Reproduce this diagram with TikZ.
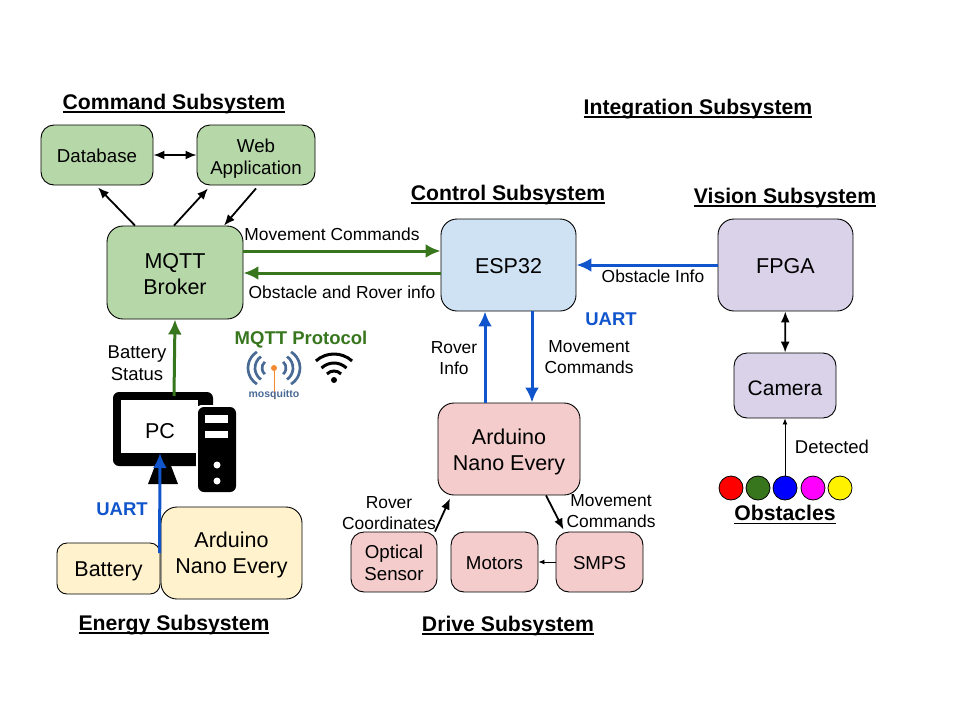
\documentclass[tikz,border=0pt]{standalone}
\usepackage{fontspec}
\setmainfont{Liberation Sans}
\usetikzlibrary{calc,arrows.meta,positioning}
\definecolor{cmdfill}{HTML}{B6D7A8}
\definecolor{ctlfill}{HTML}{CFE2F3}
\definecolor{visfill}{HTML}{D9D2E9}
\definecolor{drvfill}{HTML}{F4CCCC}
\definecolor{engfill}{HTML}{FFF2CC}
\definecolor{mqttgreen}{HTML}{38761D}
\definecolor{uartblue}{HTML}{1155CC}
\definecolor{mosqblue}{HTML}{4A6A96}
\definecolor{mosqorange}{HTML}{F58A2E}
\definecolor{obsmag}{HTML}{FF00FF}
\newcommand{\dn}[1]{\rule{0pt}{#1pt}}
\newcommand{\ttl}[1]{\setbox0\hbox{#1}\rlap{\rule[-3.5pt]{\wd0}{1.8pt}}\box0}
\tikzset{
  block/.style={draw=black,line width=0.9pt,rounded corners=13pt,align=center,inner sep=0pt,
    font=\fontsize{18.7}{22}\selectfont},
  bigblock/.style={block,rounded corners=16pt,font=\fontsize{21.5}{26}\selectfont},
  title/.style={font=\fontsize{21.2}{24}\selectfont\bfseries,inner sep=0pt},
  lab/.style={font=\fontsize{17.4}{21}\selectfont,align=center,inner sep=0pt},
  biglab/.style={lab,font=\fontsize{18.5}{22}\selectfont},
  boldlab/.style={font=\fontsize{18.5}{20}\selectfont\bfseries,inner sep=0pt},
  wire/.style={-{Latex[length=11pt,width=9pt]},line width=1.8pt},
  wirex/.style={{Latex[length=11pt,width=9pt]}-{Latex[length=11pt,width=9pt]},line width=1.8pt},
  bus/.style={-{Latex[length=15pt,width=14pt]},line width=3pt},
  thinwire/.style={-{Latex[length=6pt,width=5pt]},line width=0.9pt}
}
\begin{document}
\begin{tikzpicture}[x=1pt,y=-1pt]
\useasboundingbox (0,0) rectangle (960,720);

% command
\node [block,fill=cmdfill,minimum width=112pt,minimum height=60pt] (db) at (97,155) {\dn{16}Database};
\node [block,fill=cmdfill,minimum width=118pt,minimum height=60pt] (web) at (256,155) {\dn{20}Web\\Application};
\node [bigblock,fill=cmdfill,minimum width=136pt,minimum height=93pt] (broker) at (175,272.5) {\dn{17.5}MQTT\\Broker};

% control and vision
\node [bigblock,fill=ctlfill,minimum width=135pt,minimum height=92pt] (esp) at (508.5,265) {\dn{18}ESP32};
\node [bigblock,fill=visfill,minimum width=135pt,minimum height=92pt] (fpga) at (785.5,265) {\dn{18}FPGA};
\node [block,fill=visfill,minimum width=102pt,minimum height=65pt,font=\fontsize{21}{26}\selectfont] (cam) at (785,385.5) {\dn{19.5}Camera};

% drive
\node [bigblock,fill=drvfill,minimum width=142pt,minimum height=92pt] (nanod) at (509,449) {\dn{21.5}Arduino\\Nano Every};
\node [block,fill=drvfill,minimum width=86pt,minimum height=60pt] (opt) at (394,562) {\dn{16}Optical\\Sensor};
\node [block,fill=drvfill,minimum width=87pt,minimum height=60pt] (mot) at (494.5,562) {\dn{16}Motors};
\node [block,fill=drvfill,minimum width=87pt,minimum height=60pt] (smps) at (599.5,562) {\dn{16}SMPS};

% energy
\node [block,fill=engfill,minimum width=103pt,minimum height=51pt,rounded corners=10pt,font=\fontsize{21.5}{26}\selectfont] (bat) at (108.5,568.5) {\dn{19.5}Battery};
\node [bigblock,fill=engfill,minimum width=141pt,minimum height=92pt] (nanoe) at (231.5,553) {\dn{19.5}Arduino\\Nano Every};

% pc icon
\fill [black,rounded corners=6pt] (113,392) rectangle (213,466);
\fill [black] (148,484) -- (163,445) -- (178,484) -- cycle;
\fill [white,rounded corners=5pt] (196,405) rectangle (238,494);
\fill [black,rounded corners=6pt] (198,407) rectangle (236,492);
\fill [white] (121,400) rectangle (198,453);
\fill [white] (205,415) rectangle (228,423);
\fill [white] (205,431) rectangle (228,438);
\fill [white] (217,465) circle (3.5);
\fill [white] (217,481) circle (3.5);
\node [inner sep=0pt,font=\fontsize{21.5}{24}\selectfont] (pc) at (160,431) {PC};
\coordinate (pctop) at (174,396);
\coordinate (pcscr) at (160,453);

% mosquitto logo
\begin{scope}[mosqblue,line width=2.7pt]
\draw (267,368) ++(-122:19) arc (-122:-238:19);
\draw (269,368) ++(-125:14) arc (-125:-235:14);
\draw (270,368) ++(-130:8) arc (-130:-230:8);
\draw (281,368) ++(-58:19) arc (-58:58:19);
\draw (279,368) ++(-55:14) arc (-55:55:14);
\draw (278,368) ++(-50:8) arc (-50:50:8);
\end{scope}
\draw [mosqorange,line width=1pt] (274,368) -- (274,399);
\fill [mosqorange] (274,368) circle (3);
\node [inner sep=0pt,text=mosqblue,font=\fontsize{10.5}{12}\selectfont\bfseries] (mosq) at (274,395) {mosquitto};

% wifi icon
\begin{scope}[line width=3pt]
\foreach \r / \a in {27/48,18/46,10/45} {
  \draw (334,381) ++(-\a:\r) arc (-\a:-180+\a:\r);
}
\end{scope}
\fill (334,380) circle (3);

% obstacles
\def\obst{731/red,758/mqttgreen,785/blue,813/obsmag,840/yellow}
\foreach \x / \col in \obst
  \node [circle,draw=black,line width=0.8pt,fill=\col,minimum size=24pt,inner sep=0pt] (o\x) at (\x,488) {};

% titles
\node [title] (tcmd) at (174,104) {\ttl{Command Subsystem}};
\node [title] (tint) at (698,109) {\ttl{Integration Subsystem}};
\node [title] (tctl) at (508,195) {\ttl{Control Subsystem}};
\node [title] (tvis) at (785,198) {\ttl{Vision Subsystem}};
\node [title] (tobs) at (785,515) {\ttl{Obstacles}};
\node [title] (teng) at (174,625) {\ttl{Energy Subsystem}};
\node [title] (tdrv) at (508,626) {\ttl{Drive Subsystem}};

% connectors
\draw [wirex] (db) -- (web);
\draw [wire] ([xshift=-40pt]broker.north) -- ([xshift=1pt,yshift=-2pt]db.south);
\draw [wire] ([xshift=-1pt]broker.north) -- ([xshift=-48pt,yshift=-3pt]web.south);
\draw [wire] ([yshift=-3pt]web.south) -- ([xshift=49pt]broker.north);
\draw [bus,mqttgreen] ([yshift=21.5pt]broker.east) -- ([yshift=14pt]esp.west);
\draw [bus,mqttgreen] ([yshift=-8pt]esp.west) -- ([yshift=-0.5pt]broker.east);
\draw [bus,uartblue] (fpga) -- (esp);
\draw [bus,uartblue] ([xshift=23.5pt]esp.south) -- ([xshift=23pt]nanod.north);
\draw [bus,uartblue] ([xshift=-24pt]nanod.north) -- ([xshift=-23.5pt]esp.south);
\draw [bus,mqttgreen] (pctop) -- (broker.south);
\draw [bus,uartblue] ([xshift=-1pt]nanoe.west) -- (pcscr);
\draw [wirex] (fpga) -- (cam);
\draw [thinwire] (o785) -- (cam);
\draw [wire] ([xshift=37pt]nanod.south) -- ([xshift=-36pt,yshift=2pt]smps.north);
\draw [wire] ([xshift=41pt]opt.north) -- ([xshift=-59pt,yshift=-3pt]nanod.south);
\draw [thinwire] (smps) -- (mot);

% labels
\node [lab] (lmove) at (332,234) {Movement Commands};
\node [lab] (lobsr) at (342,292) {Obstacle and Rover info};
\node [lab] (lobs) at (653,276) {Obstacle Info};
\node [lab] (lrov) at (454,358) {Rover\\Info};
\node [lab] (lmov2) at (589,357) {Movement\\Commands};
\node [boldlab,text=uartblue] (luart) at (611,319) {UART};
\node [boldlab,text=uartblue] (luart2) at (122,509) {UART};
\node [biglab] (lbat) at (137,363) {Battery\\Status};
\node [boldlab,text=mqttgreen] (lmqtt) at (301,340) {MQTT Protocol};
\node [biglab] (ldet) at (832,447) {Detected};
\node [lab] (lrc) at (389,513) {Rover\\Coordinates};
\node [lab] (lmc) at (611,511) {Movement\\Commands};
\end{tikzpicture}
\end{document}
